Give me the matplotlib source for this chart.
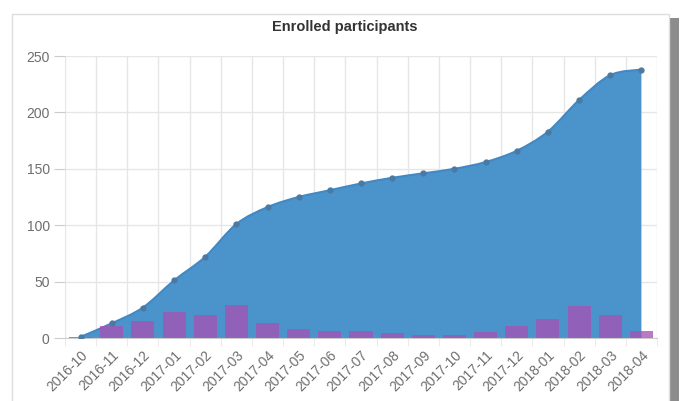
import matplotlib
matplotlib.use("Agg")
import matplotlib.pyplot as plt
from matplotlib.path import Path
from matplotlib.patches import PathPatch, Rectangle
import numpy as np

plt.rcParams['font.family'] = ['Liberation Sans', 'DejaVu Sans']

months = ["2016-10", "2016-11", "2016-12", "2017-01", "2017-02", "2017-03",
          "2017-04", "2017-05", "2017-06", "2017-07", "2017-08", "2017-09",
          "2017-10", "2017-11", "2017-12", "2018-01", "2018-02", "2018-03",
          "2018-04"]
cumulative = [1, 13, 27, 51, 72, 101, 116, 125, 131, 137, 142, 146,
              150, 156, 166, 183, 211, 233, 238]
monthly = [1, 11, 15, 23, 20, 29, 13, 8, 6, 6, 4, 3, 3, 5, 11, 17, 28, 20, 6]
yticks = [0, 50, 100, 150, 200, 250]


def smooth_path(xs, ys, closed_base=None):
    # catmull-rom style bezier through the points
    pts = np.column_stack([xs, ys]).astype(float)
    n = len(pts)
    verts = [tuple(pts[0])]
    codes = [Path.MOVETO]
    for i in range(n - 1):
        p0 = pts[max(i - 1, 0)]
        p1 = pts[i]
        p2 = pts[i + 1]
        p3 = pts[min(i + 2, n - 1)]
        c1 = p1 + (p2 - p0) / 6.0
        c2 = p2 - (p3 - p1) / 6.0
        verts += [tuple(c1), tuple(c2), tuple(p2)]
        codes += [Path.CURVE4] * 3
    if closed_base is not None:
        verts += [(xs[-1], closed_base), (xs[0], closed_base), tuple(pts[0])]
        codes += [Path.LINETO, Path.LINETO, Path.CLOSEPOLY]
    return Path(verts, codes)


fig = plt.figure(figsize=(6.86, 4.01), dpi=100)

# panel frame with shadow on the right
fig.patches.append(Rectangle((670 / 686, 0), 9 / 686, 1 - 18 / 401,
                             transform=fig.transFigure, facecolor="#8c8c8c",
                             edgecolor="none", zorder=-3))
fig.patches.append(Rectangle((12 / 686, -0.01), 657 / 686, 1.01 - 14 / 401,
                             transform=fig.transFigure, facecolor="white",
                             edgecolor="#dddddd", linewidth=1, zorder=-2))

ax = fig.add_axes([65 / 686, 1 - 338 / 401, 592 / 686, 282 / 401])
ax.set_facecolor("none")
x = np.arange(len(months))

area = PathPatch(smooth_path(x, cumulative, closed_base=0), facecolor="#4b94cb",
                 edgecolor="none", zorder=2)
ax.add_patch(area)
line = PathPatch(smooth_path(x, cumulative), facecolor="none",
                 edgecolor="#4388c2", linewidth=1.5, zorder=3)
ax.add_patch(line)
ax.plot(x, cumulative, "o", color="#4a7aa3", markersize=3.5, zorder=4)

ax.bar(x, monthly, width=0.74, color="#a653b5", edgecolor="none",
       alpha=0.78, zorder=5)

ax.set_xlim(-0.5, len(months) - 0.5)
ax.set_ylim(0, 250)
ax.set_yticks(yticks)
ax.set_xticks(x)
ax.set_xticklabels(months, rotation=45, ha="right", rotation_mode="anchor",
                   fontsize=10, color="#6e6e6e")
ax.set_xticks(np.arange(len(months) + 1) - 0.5, minor=True)
ax.tick_params(axis="x", which="major", length=0, pad=7)
ax.tick_params(axis="x", which="minor", length=6, color="#e6e6e6")
ax.tick_params(axis="y", length=8, color="#cccccc", labelsize=10,
               labelcolor="#6e6e6e", pad=3)

ax.grid(axis="y", color="#e6e6e6", linewidth=1, zorder=0)
ax.grid(axis="x", which="minor", color="#e6e6e6", linewidth=1, zorder=0)
for s in ["top", "right", "left"]:
    ax.spines[s].set_visible(False)
ax.spines["bottom"].set_color("#cccccc")
ax.set_axisbelow(True)

fig.text(345 / 686, 1 - 27 / 401, "Enrolled participants", ha="center",
         va="center", fontsize=10.5, fontweight="bold", color="#333333")

fig.savefig("out.png", dpi=100)
